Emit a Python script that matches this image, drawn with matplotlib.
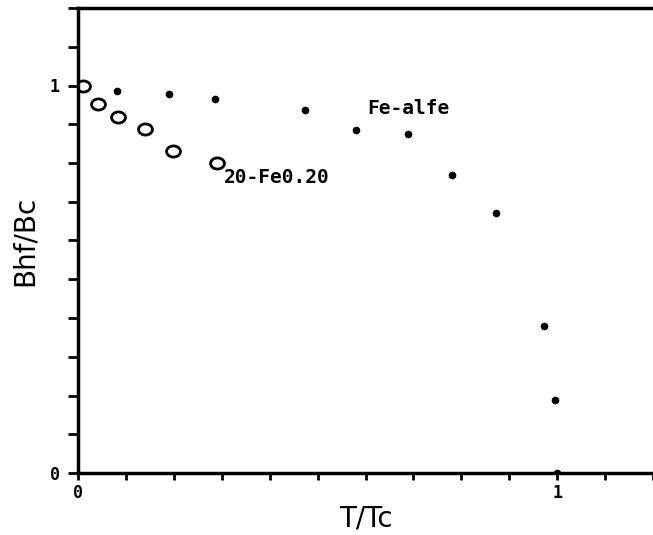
import matplotlib
matplotlib.use('Agg')
import matplotlib.pyplot as plt
from matplotlib.path import Path
from matplotlib.ticker import MultipleLocator

# 20-Fe0.20 (open circles)
t_fe20 = [0.01, 0.042, 0.083, 0.139, 0.198, 0.291]
b_fe20 = [1.0, 0.951, 0.920, 0.889, 0.830, 0.799]

# Fe-alfe (filled dots)
t_fe = [0.081, 0.189, 0.285, 0.474, 0.580, 0.688, 0.780, 0.873, 0.973, 0.996, 1.0]
b_fe = [0.987, 0.977, 0.964, 0.938, 0.884, 0.876, 0.768, 0.670, 0.379, 0.188, 0.0]

# slightly flattened ring, like the plotter's "o"
circ = Path.unit_circle()
ellipse = Path(circ.vertices * [1.0, 0.8], circ.codes)

fig = plt.figure(figsize=(6.53, 5.35), dpi=100)
ax = fig.add_axes([78/653, 62/535, 1 - 78/653, (473 - 8)/535])

ax.plot(t_fe, b_fe, 'o', color='black', markersize=4.5, linestyle='none')
ax.plot(t_fe20, b_fe20, marker=ellipse, color='black', markerfacecolor='none',
        markersize=10, markeredgewidth=2, linestyle='none')

mono = dict(family='DejaVu Sans Mono', weight='bold')
ax.text(0.305, 0.763, '20-Fe0.20', fontsize=14, va='center', ha='left', **mono)
ax.text(0.603, 0.94, 'Fe-alfe', fontsize=14, va='center', ha='left', **mono)

ax.set_xlim(0, 1.2)
ax.set_ylim(0, 1.2)

ax.set_xticks([0, 1])
ax.set_yticks([0, 1])
ax.set_xticklabels(['0', '1'], fontsize=12, **mono)
ax.set_yticklabels(['0', '1'], fontsize=12, **mono)
ax.xaxis.set_minor_locator(MultipleLocator(0.1))
ax.yaxis.set_minor_locator(MultipleLocator(0.1))
ax.tick_params(axis='x', which='both', direction='out', length=5, width=2, pad=3)
ax.tick_params(axis='y', which='both', direction='out', length=7, width=2, pad=6)

for s in ['left', 'bottom', 'top']:
    ax.spines[s].set_linewidth(2.5)
ax.spines['right'].set_visible(False)

ax.set_xlabel('T/Tc', fontsize=20, labelpad=2)
ax.set_ylabel('Bhf/Bc', fontsize=20, labelpad=8)

fig.savefig('out.png', dpi=100)
